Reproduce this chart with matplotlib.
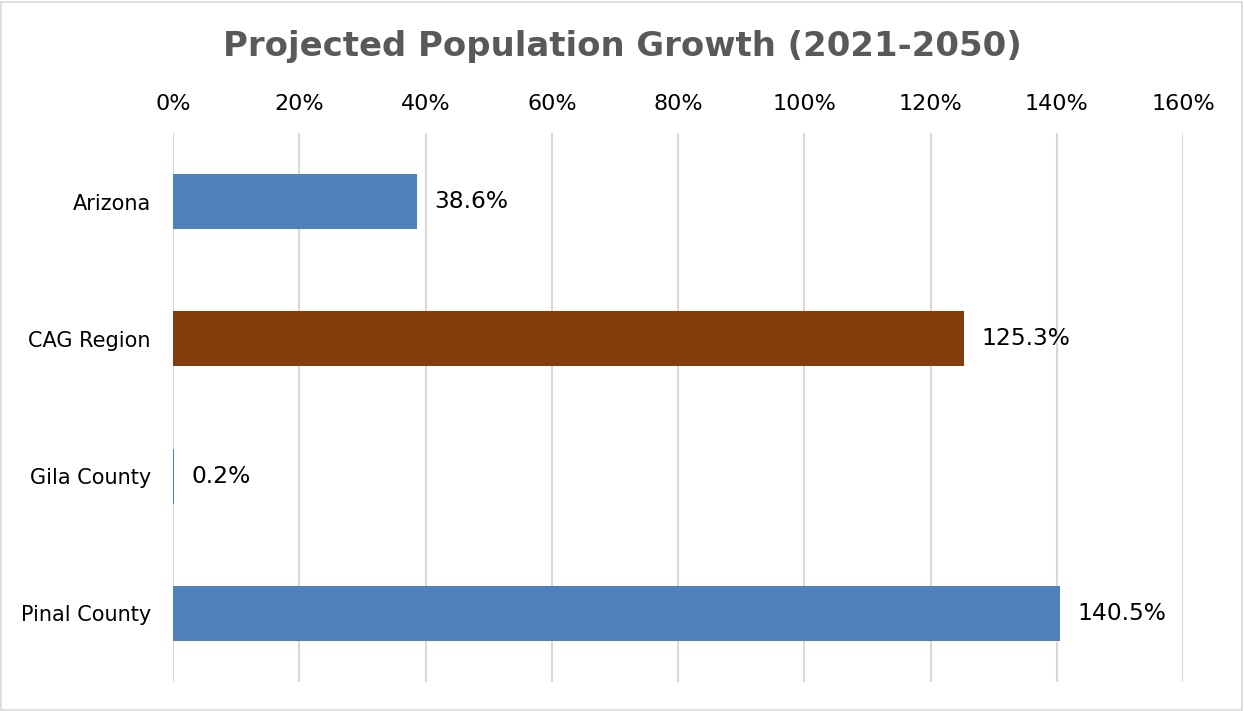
import matplotlib.pyplot as plt
from matplotlib.patches import Rectangle
from matplotlib.ticker import FuncFormatter

regions = ['Arizona', 'CAG Region', 'Gila County', 'Pinal County']
growth = [38.6, 125.3, 0.2, 140.5]
bar_colors = ['#4F81BD', '#843C0C', '#4F81BD', '#4F81BD']
x_ticks = [0, 20, 40, 60, 80, 100, 120, 140, 160]

plt.rcParams['font.family'] = 'DejaVu Sans'

fig = plt.figure(figsize=(12.44, 7.11), dpi=100)
ax = fig.add_axes([0.1391, 0.0408, 0.812, 0.7721])

ypos = list(range(len(regions)))
ax.barh(ypos, growth, height=0.4, color=bar_colors, zorder=3)
for y, v in zip(ypos, growth):
    ax.text(v + 2.8, y, '{:.1f}%'.format(v), va='center', ha='left',
            fontsize=16.8, color='black')

ax.set_xlim(0, 160)
ax.set_ylim(len(regions) - 0.5, -0.5)
ax.set_xticks(x_ticks)
ax.xaxis.set_major_formatter(FuncFormatter(lambda v, p: '{:.0f}%'.format(v)))
ax.xaxis.tick_top()
ax.set_yticks(ypos)
ax.set_yticklabels(regions)
ax.tick_params(axis='x', length=0, pad=14, labelsize=16)
ax.tick_params(axis='y', length=0, pad=16, labelsize=15)

ax.grid(axis='x', color='#D9D9D9', linewidth=1.5, zorder=0)
for s in ax.spines.values():
    s.set_visible(False)

fig.text(0.5, 0.935, 'Projected Population Growth (2021-2050)', ha='center',
         va='center', fontsize=24.4, fontweight='bold', color='#595959')

# light frame around the whole chart
fig.patches.append(Rectangle((0.001, 0.002), 0.997, 0.995, transform=fig.transFigure,
                             fill=False, edgecolor='#D9D9D9', linewidth=1.2))

fig.savefig('out.png', dpi=100)
